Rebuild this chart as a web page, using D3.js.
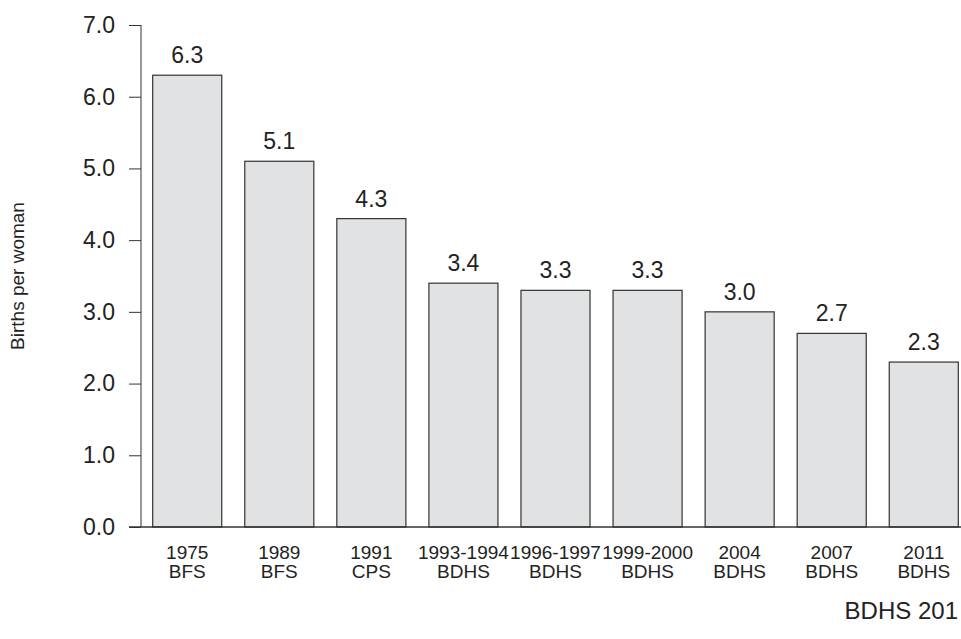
<!DOCTYPE html>
<html>
<head>
<meta charset="utf-8">
<script src="https://cdn.jsdelivr.net/npm/d3@7"></script>
<style>
  body { margin: 0; background: #fff; }
  svg { display: block; font-family: "Liberation Sans", Arial, sans-serif; }
</style>
</head>
<body>
<div id="chart"></div>
<script>
(function () {
  'use strict';

  // data
  var periods = ['1975', '1989', '1991', '1993-1994', '1996-1997', '1999-2000', '2004', '2007', '2011'];
  var surveys = ['BFS', 'BFS', 'CPS', 'BDHS', 'BDHS', 'BDHS', 'BDHS', 'BDHS', 'BDHS'];
  var tfr = [6.3, 5.1, 4.3, 3.4, 3.3, 3.3, 3.0, 2.7, 2.3];
  var yTicks = [0, 1, 2, 3, 4, 5, 6, 7];

  var w = 961, h = 639,
      axisX = 141, top = 25, bottom = 527;

  var svg = d3.select('#chart').append('svg')
    .attr('width', w)
    .attr('height', h);

  var x = d3.scaleBand()
    .domain(periods)
    .range([axisX, 970])
    .paddingInner(0.25)
    .paddingOuter(0.127);

  var y = d3.scaleLinear()
    .domain([0, 7])
    .range([bottom, top]);

  // y axis
  var yAxis = d3.axisLeft(y)
    .tickValues(yTicks)
    .tickSize(12)
    .tickPadding(14)
    .tickFormat(d3.format('.1f'));

  var gy = svg.append('g')
    .attr('transform', 'translate(' + axisX + ',0)')
    .call(yAxis);
  gy.select('.domain').attr('stroke', '#333').attr('d', 'M0,' + top + 'V' + bottom);
  gy.selectAll('.tick line').attr('stroke', '#333');
  gy.selectAll('.tick text')
    .attr('fill', '#222')
    .style('font-size', '23px')
    .style('font-family', '"Liberation Sans", Arial, sans-serif');

  // bars
  svg.selectAll('.bar')
    .data(tfr)
    .enter()
    .append('rect')
    .attr('class', 'bar')
    .attr('x', function (d, i) { return x(periods[i]); })
    .attr('y', function (d) { return y(d); })
    .attr('width', x.bandwidth())
    .attr('height', function (d) { return y(0) - y(d); })
    .attr('fill', '#e1e2e4')
    .attr('stroke', '#333')
    .attr('stroke-width', 1.2);

  // baseline
  svg.append('line')
    .attr('x1', axisX - 12)
    .attr('x2', w)
    .attr('y1', y(0))
    .attr('y2', y(0))
    .attr('stroke', '#333')
    .attr('stroke-width', 1.5);

  // value labels
  svg.selectAll('.val')
    .data(tfr)
    .enter()
    .append('text')
    .attr('class', 'val')
    .attr('x', function (d, i) { return x(periods[i]) + x.bandwidth() / 2; })
    .attr('y', function (d) { return y(d) - 12; })
    .attr('text-anchor', 'middle')
    .attr('fill', '#222')
    .style('font-size', '23px')
    .text(function (d) { return d3.format('.1f')(d); });

  // category labels (two lines)
  var cat = svg.selectAll('.cat')
    .data(periods)
    .enter()
    .append('text')
    .attr('class', 'cat')
    .attr('text-anchor', 'middle')
    .attr('fill', '#222')
    .style('font-size', '19px');

  cat.append('tspan')
    .attr('x', function (d) { return x(d) + x.bandwidth() / 2; })
    .attr('y', 559)
    .text(function (d) { return d; });

  cat.append('tspan')
    .attr('x', function (d) { return x(d) + x.bandwidth() / 2; })
    .attr('y', 578)
    .text(function (d, i) { return surveys[i]; });

  // y title
  svg.append('text')
    .attr('transform', 'translate(24,' + ((top + bottom) / 2) + ') rotate(-90)')
    .attr('text-anchor', 'middle')
    .attr('fill', '#222')
    .style('font-size', '19px')
    .text('Births per woman');

  // source note (shown cut short, as in the original)
  svg.append('text')
    .attr('x', 958)
    .attr('y', 619)
    .attr('text-anchor', 'end')
    .attr('fill', '#222')
    .style('font-size', '24px')
    .text('BDHS 201');
}());
</script>
</body>
</html>
